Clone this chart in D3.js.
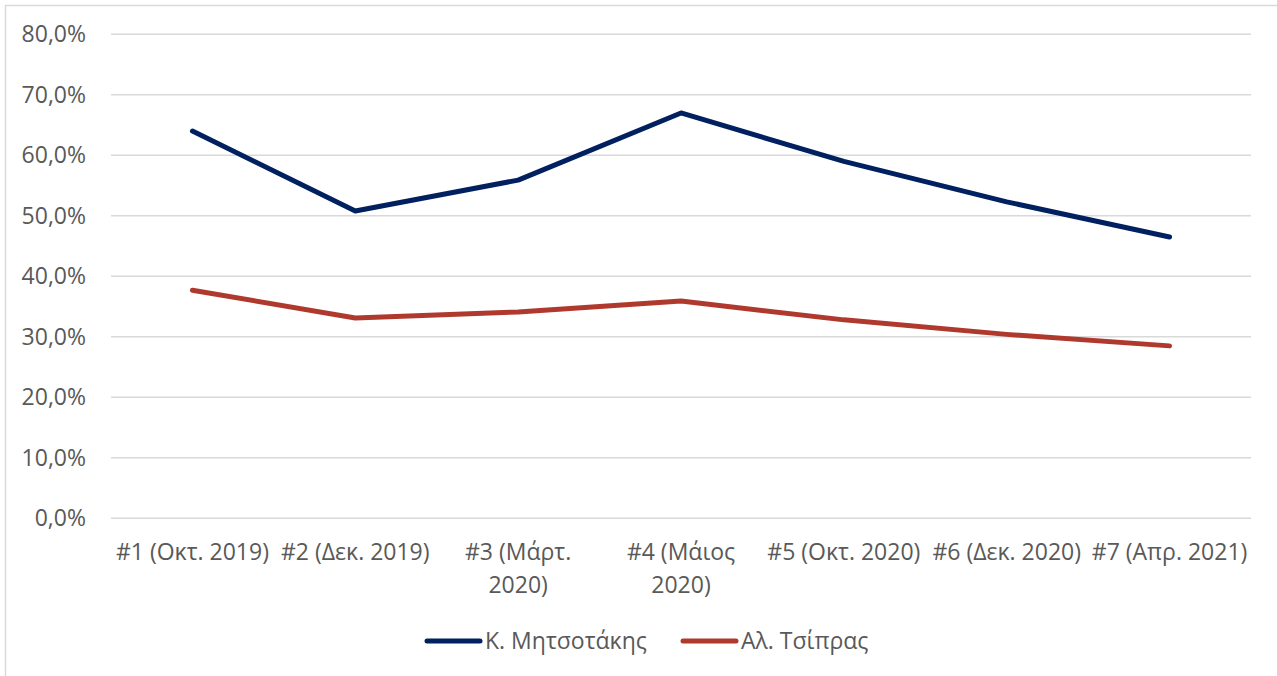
<!DOCTYPE html>
<html>
<head>
<meta charset="utf-8">
<script src="https://cdn.jsdelivr.net/npm/d3@7"></script>
<style>
  body { margin: 0; background: #fff; }
  text { font-family: "Open Sans", "Noto Sans", sans-serif; fill: #595959; }
</style>
</head>
<body>
<svg id="chart" width="1277" height="676"></svg>
<script>
// survey waves (line breaks as in the original axis)
var waves = [
  ["#1 (Οκτ. 2019)"],
  ["#2 (Δεκ. 2019)"],
  ["#3 (Μάρτ.", "2020)"],
  ["#4 (Μάιος", "2020)"],
  ["#5 (Οκτ. 2020)"],
  ["#6 (Δεκ. 2020)"],
  ["#7 (Απρ. 2021)"]
];
var seriesNames = ["Κ. Μητσοτάκης", "Αλ. Τσίπρας"];
var mitsotakis = [64.0, 50.8, 55.9, 67.0, 59.0, 52.3, 46.5];
var tsipras = [37.7, 33.1, 34.1, 35.9, 32.8, 30.4, 28.5];
var yTicks = [0, 10, 20, 30, 40, 50, 60, 70, 80];
var colors = ["#002060", "#B0392E"];

var svg = d3.select('#chart');
var fontSize = '23px';

// outer frame (cropped at right/bottom like the picture)
svg.append('rect')
  .attr('x', 5.5).attr('y', 5.5)
  .attr('width', 1300).attr('height', 700)
  .attr('fill', 'none')
  .attr('stroke', '#d9d9d9')
  .attr('stroke-width', 1.5)

var plotL = 111, plotR = 1251, plotT = 34.3, plotB = 518.3;

var x = d3.scaleBand()
  .domain(d3.range(waves.length))
  .range([plotL, plotR])

var y = d3.scaleLinear()
  .domain([0, 80])
  .range([plotB, plotT])

var fmt = function (v) { return d3.format('.1f')(v).replace('.', ',') + '%' }

// gridlines
svg.append('g')
  .selectAll('line')
  .data(yTicks)
  .enter().append('line')
  .attr('x1', plotL).attr('x2', plotR)
  .attr('y1', function (d) { return y(d) })
  .attr('y2', function (d) { return y(d) })
  .attr('stroke', '#d9d9d9')
  .attr('stroke-width', 1.5)

// y labels
svg.append('g')
  .selectAll('text')
  .data(yTicks)
  .enter().append('text')
  .attr('x', 86)
  .attr('y', function (d) { return y(d) })
  .attr('dy', '0.35em')
  .attr('text-anchor', 'end')
  .style('font-size', fontSize)
  .text(fmt)

// x labels
var xl = svg.append('g')
  .selectAll('text')
  .data(waves)
  .enter().append('text')
  .attr('text-anchor', 'middle')
  .attr('x', function (d, i) { return x(i) + x.bandwidth() / 2 })
  .attr('y', 560)
  .style('font-size', fontSize)

xl.selectAll('tspan')
  .data(function (d) { return d })
  .enter().append('tspan')
  .attr('x', function () { return d3.select(this.parentNode).attr('x') })
  .attr('dy', function (d, i) { return i === 0 ? 0 : 33 })
  .text(function (d) { return d })

// lines
var line = d3.line()
  .x(function (d, i) { return x(i) + x.bandwidth() / 2 })
  .y(function (d) { return y(d) })

svg.selectAll('.series')
  .data([mitsotakis, tsipras])
  .enter().append('path')
  .attr('class', 'series')
  .attr('d', line)
  .attr('fill', 'none')
  .attr('stroke', function (d, i) { return colors[i] })
  .attr('stroke-width', 5)
  .attr('stroke-linejoin', 'round')
  .attr('stroke-linecap', 'round')

// legend
var legendX = [427, 683];
var leg = svg.selectAll('.legend')
  .data(seriesNames)
  .enter().append('g')
  .attr('class', 'legend')
  .attr('transform', function (d, i) { return 'translate(' + legendX[i] + ',641)' })

leg.append('line')
  .attr('x1', 0).attr('x2', 53)
  .attr('stroke', function (d, i) { return colors[i] })
  .attr('stroke-width', 5)
  .attr('stroke-linecap', 'round')

leg.append('text')
  .attr('x', 58)
  .attr('dy', '0.35em')
  .style('font-size', fontSize)
  .text(function (d) { return d })
</script>
</body>
</html>
